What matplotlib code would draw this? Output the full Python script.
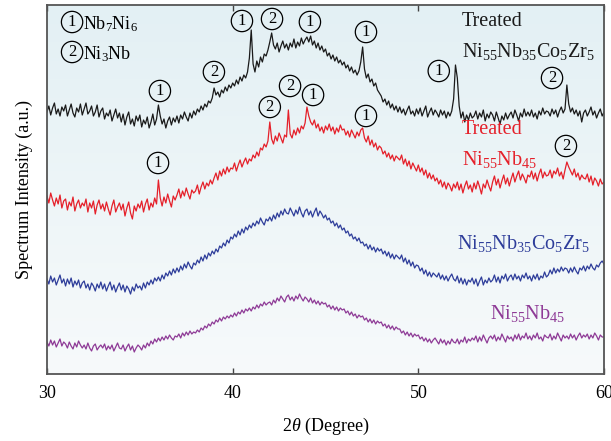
import numpy as np
import matplotlib
matplotlib.use("Agg")
import matplotlib.pyplot as plt
from matplotlib.colors import LinearSegmentedColormap

plt.rcParams['font.family'] = ['Liberation Serif', 'DejaVu Serif']
plt.rcParams['mathtext.fontset'] = 'custom'
plt.rcParams['mathtext.rm'] = 'Liberation Serif'
plt.rcParams['mathtext.it'] = 'Liberation Serif:italic'

# 2theta from 30 to 60 deg, step 0.1
two_theta = np.round(np.arange(300, 601) / 10.0, 1)

treated_ninbcozr = [
    262,268,259,266,271,260,265,258,267,263,
    269,258,264,270,261,257,266,262,270,259,
    265,271,260,263,268,258,262,269,257,263,
    266,255,261,258,264,253,259,265,256,261,
    252,260,249,257,262,250,255,248,258,253,
    259,247,254,250,257,246,252,260,249,255,
    269,258,250,255,246,253,257,249,256,252,
    258,251,259,255,262,257,253,261,256,263,
    259,265,262,268,264,270,267,273,271,276,
    286,279,282,277,284,281,287,283,289,286,
    291,288,294,290,297,293,299,296,302,316,
    344,310,302,313,307,317,312,320,318,324,
    332,341,329,325,331,322,328,333,326,330,
    324,331,327,335,326,332,328,336,330,334,
    337,332,338,329,333,326,331,324,328,322,
    325,318,321,315,319,313,317,311,314,309,
    312,306,309,303,307,301,304,299,303,312,
    327,305,296,300,292,295,288,291,284,281,
    278,272,275,269,273,266,270,264,268,262,
    267,261,265,259,264,268,260,263,258,265,
    260,266,258,263,268,257,262,266,259,264,
    261,257,264,259,263,256,262,258,263,275,
    309,296,268,256,262,252,259,254,261,256,
    258,263,255,261,257,264,253,260,256,262,
    259,253,262,256,250,258,254,261,255,259,
    262,256,264,259,253,261,257,265,258,262,
    258,264,257,261,255,263,259,266,260,263,
    262,258,265,260,264,257,263,267,261,265,
    289,270,262,266,260,264,258,263,252,261,
    264,258,262,267,259,263,256,261,265,258,
    262]

treated_ninb = [
    178,171,181,174,168,176,170,179,166,173,
    175,164,172,168,177,163,170,174,166,171,
    168,175,162,171,166,173,160,169,174,165,
    170,163,172,165,159,168,174,162,167,171,
    164,170,158,166,172,161,155,168,163,170,
    166,173,162,170,175,164,171,167,176,170,
    194,176,168,177,171,180,173,167,178,174,
    179,185,176,183,178,186,180,175,184,181,
    183,189,180,187,192,185,191,188,194,190,
    196,201,194,203,198,205,200,207,202,206,
    205,211,203,209,214,207,212,216,210,215,
    213,219,216,222,218,226,224,230,227,233,
    252,235,230,238,233,241,236,231,239,237,
    264,240,236,244,239,246,241,248,245,251,
    267,258,252,249,254,246,250,243,247,241,
    248,244,250,243,247,240,246,242,249,244,
    245,239,243,237,244,240,236,242,238,244,
    246,236,232,238,229,234,227,231,224,228,
    226,220,223,217,221,215,219,213,218,216,
    214,219,210,215,208,213,205,211,207,203,
    209,202,206,199,204,196,201,195,199,193,
    196,190,194,187,192,185,191,188,183,190,
    186,192,184,190,181,188,193,185,189,182,
    191,185,193,187,180,190,186,194,188,183,
    192,198,189,195,186,193,199,190,196,188,
    195,201,192,198,203,194,200,196,191,199,
    197,203,195,201,193,200,205,196,202,198,
    199,204,196,203,200,206,198,202,195,204,
    212,207,203,199,205,197,201,194,199,196,
    195,200,192,198,189,196,193,188,195,190,
    192]

ninbcozr = [
    95,90,98,92,96,89,94,99,91,95,
    88,95,90,96,87,93,89,94,86,91,
    93,86,90,84,91,88,83,90,86,92,
    85,90,83,88,92,84,89,82,87,91,
    84,89,82,88,85,80,87,83,90,86,
    88,84,91,86,92,89,94,90,96,93,
    97,93,99,95,101,98,103,99,105,101,
    106,102,108,104,110,106,112,108,105,111,
    109,114,111,117,113,119,115,121,118,123,
    120,125,122,128,126,131,128,134,131,137,
    135,140,137,143,139,145,141,147,144,149,
    146,151,148,153,150,156,152,149,155,153,
    157,153,159,155,161,157,163,159,165,161,
    160,166,162,158,164,160,167,161,157,163,
    165,159,163,157,162,166,158,163,160,156,
    159,154,156,151,153,148,151,146,149,144,
    146,141,143,138,140,135,137,133,136,131,
    132,128,130,125,129,124,127,122,126,123,
    125,120,123,118,122,116,120,115,119,117,
    115,119,112,116,110,114,108,112,106,109,
    108,103,106,100,104,98,102,97,101,99,
    97,101,95,99,94,98,93,97,100,95,
    93,98,91,96,90,95,89,94,92,96,
    90,95,88,93,97,89,94,91,96,92,
    94,99,92,97,91,98,95,100,93,97,
    99,94,100,95,98,93,99,96,101,95,
    98,93,99,95,100,94,98,96,102,97,
    99,104,100,106,101,105,102,107,103,106,
    105,101,106,102,107,103,100,106,104,108,
    103,108,105,110,106,104,109,107,111,113,
    110]

ninb = [
    32,28,34,29,33,27,31,35,28,32,
    30,26,32,28,25,31,27,33,29,26,
    29,25,31,26,23,28,30,24,27,29,
    26,30,24,28,25,29,23,27,31,26,
    25,29,23,27,30,24,28,22,26,29,
    27,24,29,26,31,28,33,30,35,32,
    36,33,37,34,38,35,39,36,34,38,
    37,40,36,41,38,42,39,43,40,42,
    41,44,42,46,44,48,46,50,48,52,
    50,54,52,56,53,57,55,58,56,59,
    57,61,58,62,60,64,61,65,63,66,
    63,67,65,69,66,70,68,72,69,71,
    72,69,74,71,76,73,78,75,72,77,
    79,74,77,73,78,75,80,76,73,77,
    75,72,76,71,74,70,73,69,72,70,
    71,67,69,65,68,64,67,63,66,64,
    65,61,63,59,62,58,60,56,59,57,
    58,54,56,52,55,51,54,50,53,51,
    52,48,50,46,49,45,48,44,47,45,
    45,41,43,39,42,38,41,37,40,38,
    39,35,37,33,36,32,35,31,34,36,
    33,30,35,31,34,29,33,30,35,32,
    31,35,30,34,32,37,31,35,33,36,
    34,38,32,37,33,39,35,31,36,38,
    35,39,33,37,34,40,36,32,38,35,
    37,33,39,35,40,34,38,36,41,35,
    38,34,39,36,41,35,37,33,39,37,
    36,40,34,38,35,41,37,33,39,36,
    38,35,40,36,39,34,38,41,36,39,
    37,40,35,39,36,41,38,34,39,37,
    37]

# phase labels: (2theta, intensity, phase number)
black_marks_x = [36.08, 38.99, 40.5, 42.12, 44.16, 47.18, 51.1, 57.2]
black_marks_y = [283, 302, 353, 355, 352, 342, 303, 296]
black_marks_n = ['1', '2', '1', '2', '1', '1', '1', '2']
red_marks_x = [35.98, 42.0, 43.09, 44.33, 47.18, 57.95]
red_marks_y = [211, 267, 288, 279, 258, 228]
red_marks_n = ['1', '2', '2', '1', '1', '2']

c_black = '#1a1a1a'
c_red = '#e5202a'
c_blue = '#2e3d9a'
c_purple = '#8e3a96'

fig = plt.figure(figsize=(6.11, 4.41), dpi=100)
ax = fig.add_axes([47/611, 67/441, 557/611, 369/441])
ax.set_xlim(30, 60)
ax.set_ylim(0, 369)

# background gradient
cmap = LinearSegmentedColormap.from_list('bg', ['#f7fafb', '#e3f0f4'])
grad = np.linspace(0, 1, 256).reshape(-1, 1)
ax.imshow(grad, extent=[30, 60, 0, 369], origin='lower', aspect='auto',
          cmap=cmap, zorder=0, interpolation='bicubic')

lw = 0.9
ax.plot(two_theta, treated_ninbcozr, color=c_black, lw=lw, zorder=2)
ax.plot(two_theta, treated_ninb, color=c_red, lw=lw, zorder=2)
ax.plot(two_theta, ninbcozr, color=c_blue, lw=lw, zorder=2)
ax.plot(two_theta, ninb, color=c_purple, lw=lw, zorder=2)

circ = dict(boxstyle='circle,pad=0.16', fc='none', ec='black', lw=0.9)
for x, y, n in zip(black_marks_x + red_marks_x, black_marks_y + red_marks_y,
                   black_marks_n + red_marks_n):
    ax.text(x, y, n, fontsize=12, ha='center', va='center', bbox=circ, zorder=3)

# legend of phases
ax.text(31.35, 352, '1', fontsize=12, ha='center', va='center', bbox=circ)
ax.text(31.35, 322, '2', fontsize=12, ha='center', va='center', bbox=circ)
ax.text(31.95, 350, r'Nb$_7$Ni$_6$', fontsize=13, ha='left', va='center')
ax.text(31.95, 320, r'Ni$_3$Nb', fontsize=13, ha='left', va='center')

fs = 14.5
ax.text(52.35, 352, 'Treated', color=c_black, fontsize=fs, ha='left', va='center')
ax.text(52.35, 323, r'Ni$_{55}$Nb$_{35}$Co$_5$Zr$_5$', color=c_black, fontsize=fs,
        ha='left', va='center')
ax.text(52.35, 244, 'Treated', color=c_red, fontsize=fs, ha='left', va='center')
ax.text(52.35, 215, r'Ni$_{55}$Nb$_{45}$', color=c_red, fontsize=fs, ha='left', va='center')
ax.text(52.1, 131, r'Ni$_{55}$Nb$_{35}$Co$_5$Zr$_5$', color=c_blue, fontsize=fs,
        ha='left', va='center')
ax.text(53.85, 61, r'Ni$_{55}$Nb$_{45}$', color=c_purple, fontsize=fs, ha='left', va='center')

ax.set_xticks([30, 40, 50, 60])
ax.set_yticks([])
ax.tick_params(axis='x', direction='in', length=4, width=1.0, top=True,
               labelsize=13, pad=8, color='#444444')
for s in ax.spines.values():
    s.set_color('#555555')
    s.set_linewidth(1.3)
ax.set_xlabel(r'2$\theta$ (Degree)', fontsize=13, labelpad=10)
ax.set_ylabel('Spectrum Intensity (a.u.)', fontsize=13, labelpad=10)

fig.savefig('out.png', dpi=100)
